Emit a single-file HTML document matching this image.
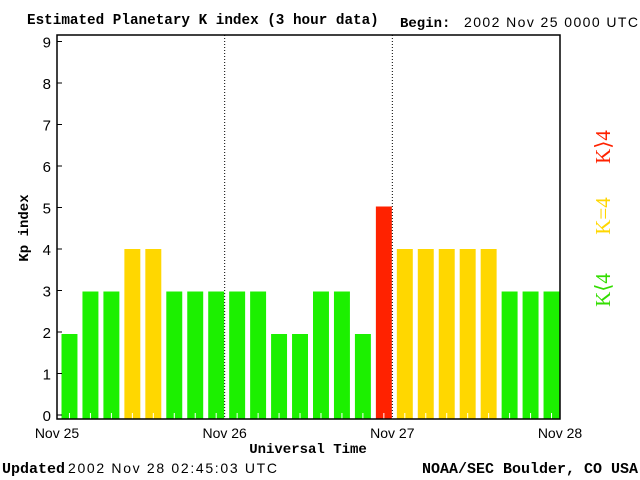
<!DOCTYPE html>
<html><head><style>
body{margin:0;background:#fff;}
svg{display:block;font-family:"Liberation Sans","DejaVu Sans",sans-serif;}
.m{font-family:"Liberation Mono",monospace;font-weight:bold;}
</style></head><body>
<svg width="640" height="480">
<g id="bars"></g>
<g id="axes"></g>
<text x="27" y="24" font-size="14.3" class="m">Estimated Planetary K index (3 hour data)</text>
<text x="400" y="27" font-size="14" class="m">Begin:</text>
<text x="464" y="27" font-size="14" textLength="174">2002 Nov 25 0000 UTC</text>
<text transform="translate(28,228) rotate(-90)" text-anchor="middle" font-size="14" class="m">Kp index</text>
<text x="308" y="453" text-anchor="middle" font-size="14" class="m">Universal Time</text>
<text x="2" y="473" font-size="15" class="m">Updated</text>
<text x="68" y="473" font-size="14" textLength="209">2002 Nov 28 02:45:03 UTC</text>
<text x="638" y="473" text-anchor="end" font-size="15" class="m">NOAA/SEC Boulder, CO USA</text>
<text transform="translate(610,290) rotate(-90)" text-anchor="middle" font-size="21" fill="#33dd00" font-family="Liberation Serif,serif">K⟨4</text>
<text transform="translate(610,216) rotate(-90)" text-anchor="middle" font-size="21" fill="#ffd700" font-family="Liberation Serif,serif">K=4</text>
<text transform="translate(610,147) rotate(-90)" text-anchor="middle" font-size="21" fill="#ff2200" font-family="Liberation Serif,serif">K⟩4</text>
</svg>
<script>
const kpValues=[2,3,3,4,4,3,3,3, 3,3,2,2,3,3,2,5, 4,4,4,4,4,3,3,3];
const yTicks=[0,1,2,3,4,5,6,7,8,9];
const dayLabels=["Nov 25","Nov 26","Nov 27","Nov 28"];
const NS="http://www.w3.org/2000/svg";
const X0=57,X1=560,Y0=419,YT=35,K=42.5;
const slot=(X1-X0)/kpValues.length;
const yS=v=>Y0-K*v;
const xS=i=>X0+i*slot;
function mk(t,a,p){const e=document.createElementNS(NS,t);for(const k in a)e.setAttribute(k,a[k]);p.appendChild(e);return e;}
const bars=document.getElementById('bars'),axes=document.getElementById('axes');
kpValues.forEach((v,i)=>{
 const c=v<4?"#1cf000":v==4?"#ffd700":"#ff2200";
 const r=mk('rect',{x:xS(i)+4.5,y:yS(v),width:slot-5,height:Y0-yS(v),fill:c},bars);
 
 
 mk('line',{x1:xS(i)+slot/2+2,x2:xS(i)+slot/2+2,y1:Y0-6,y2:Y0,stroke:"#fff"},bars);
});
mk('rect',{x:X0,y:YT,width:X1-X0,height:Y0-YT,fill:"none",stroke:"#000","stroke-width":1.5},axes);
yTicks.forEach(t=>{
 const y=Y0-4-41.5*t;
 mk('line',{x1:X0,x2:X0+5,y1:y,y2:y,stroke:"#000"},axes);
 const tx=mk('text',{x:X0-6,y:y+6,"text-anchor":"end","font-size":15},axes);tx.textContent=t;
 
 
});
dayLabels.forEach((d,i)=>{
 const x=X0+i*8*slot;
 if(i>0&&i<3)mk('line',{x1:x,x2:x,y1:YT,y2:Y0,stroke:"#000","stroke-dasharray":"1,2"},axes);
 const tx=mk('text',{x:x,y:438,"text-anchor":"middle","font-size":14},axes);tx.textContent=d;
 
 
});
</script>
</body></html>
